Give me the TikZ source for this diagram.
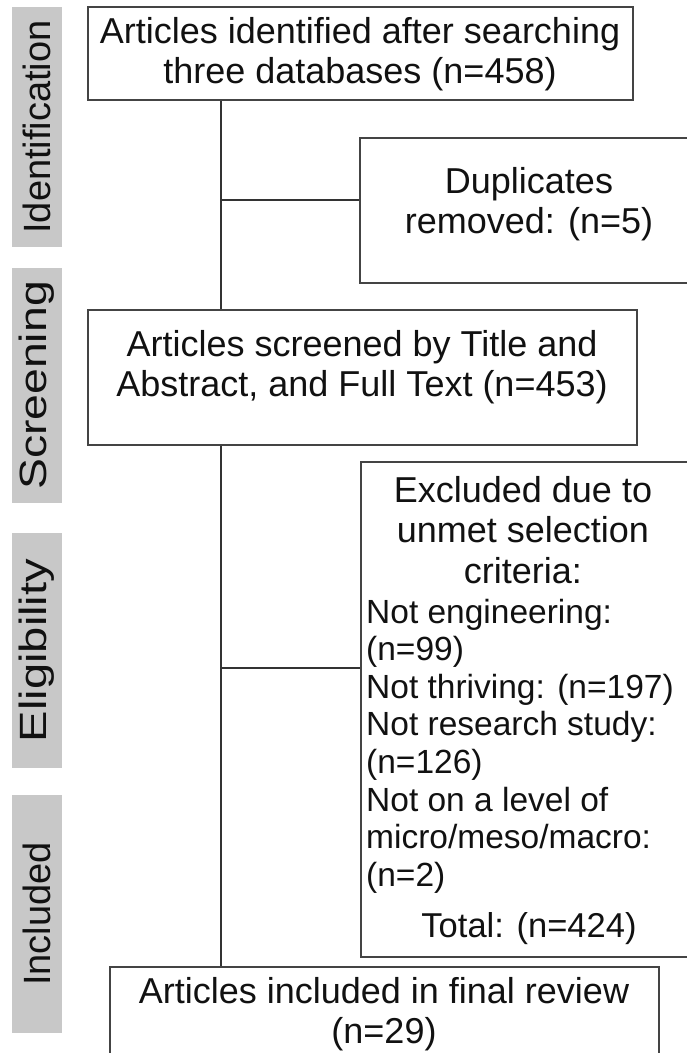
\documentclass[tikz,border=0pt]{standalone}
\usepackage{fontspec}
\setmainfont{Liberation Sans}
\usepackage{graphicx}
\definecolor{barfill}{HTML}{C8C8C8}
\definecolor{boxline}{HTML}{444444}
\definecolor{connline}{HTML}{333333}
\definecolor{txt}{HTML}{111111}
\begin{document}
\begin{tikzpicture}[x=1pt,y=-1pt,
  box/.style={draw=boxline, line width=1.5pt, inner sep=0pt},
  bar/.style={fill=barfill, inner sep=0pt, rotate=90, minimum height=50pt, text=txt, font=\fontsize{38}{40}\selectfont},
  main/.style={align=center, inner sep=0pt, text=txt, font=\fontsize{36}{40.5}\selectfont},
  listtxt/.style={align=left, inner sep=0pt, text=txt, font=\fontsize{33.5}{37.6}\selectfont},
  conn/.style={draw=connline, line width=1.5pt}]
\useasboundingbox (0,0) rectangle (687,1053);
% stage labels
\node[bar, minimum width=240pt] (lid) at (37,127) {Identification};
\node[bar, minimum width=235pt] (lsc) at (37,385.5) {\scalebox{1.22}[1]{Screening}};
\node[bar, minimum width=235pt] (lel) at (37,650.5) {\scalebox{1.24}[1]{Eligibility}};
\node[bar, minimum width=238pt] (lin) at (37,914) {Included};
% boxes
\node[box, minimum width=545pt, minimum height=93pt] (b1) at (360.5,53.5) {};
\node[main] (t1) at (360,54) {Articles identified after searching\\three databases (n=458)};
\node[box, minimum width=338pt, minimum height=145pt] (b2) at (529,210.5) {};
\node[main] (t2) at (529,204) {Duplicates\\removed: (n=5)};
\node[box, minimum width=549pt, minimum height=135pt] (b3) at (362.5,377.5) {};
\node[main] (t3) at (362,367) {Articles screened by Title and\\Abstract, and Full Text (n=453)};
\node[box, minimum width=329pt, minimum height=495pt] (b4) at (525.5,709.5) {};
\node[main] (t4a) at (523,530) {Excluded due to\\unmet selection\\criteria:};
\node[listtxt, anchor=west] (t4b) at (366,746) {Not engineering:\\(n=99)\\Not thriving: (n=197)\\Not research study:\\(n=126)\\Not on a level of\\micro/meso/macro:\\(n=2)};
\node[main, font=\fontsize{34.5}{40}\selectfont] (t4c) at (529,929) {Total: (n=424)};
\node[box, minimum width=549pt, minimum height=120pt] (b5) at (384.5,1027) {};
\node[main] (t5) at (384,1014) {Articles included in final review\\(n=29)};
% connectors
\coordinate (sx) at (221,0);
\coordinate (dupy) at (0,200);
\coordinate (exy) at (0,668);
\draw[conn] (b1.south -| sx) -- (b3.north -| sx);
\draw[conn] (sx |- dupy) -- (b2.west |- dupy);
\draw[conn] (b3.south -| sx) -- (b5.north -| sx);
\draw[conn] (sx |- exy) -- (b4.west |- exy);
\end{tikzpicture}
\end{document}
